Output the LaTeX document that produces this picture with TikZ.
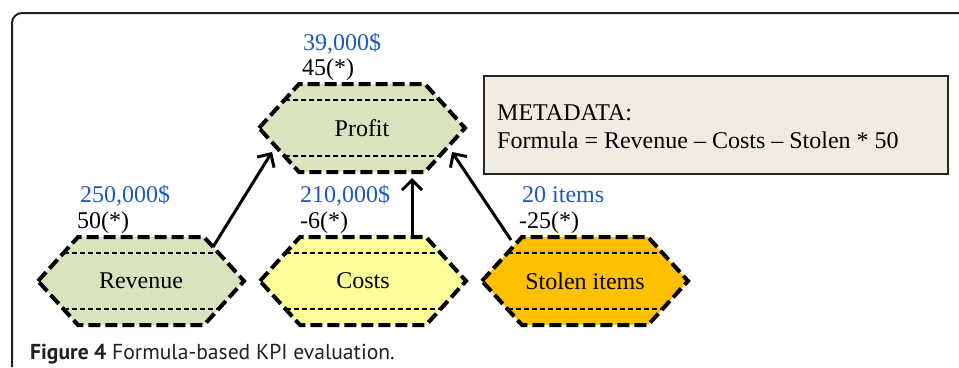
\documentclass[tikz,border=0pt]{standalone}
\usepackage{fontspec}
\setmainfont{Liberation Serif}
\newfontfamily\capfont{PT Sans}
\usetikzlibrary{arrows.meta}
\definecolor{valblue}{RGB}{31,87,193}
\definecolor{hexgreen}{HTML}{D7E4BD}
\definecolor{hexyellow}{HTML}{FFFF99}
\definecolor{hexorange}{HTML}{FFC000}
\definecolor{metafill}{HTML}{EEECE1}
\definecolor{framecol}{HTML}{231F20}
\tikzset{
  hexborder/.style={line width=4pt, dash pattern=on 12pt off 5pt, black},
  innerdash/.style={line width=1.2pt, dash pattern=on 5pt off 3pt, black},
  hexlabel/.style={inner sep=0pt, minimum width=206pt, minimum height=88pt, font=\fontsize{24}{28}\selectfont},
  valtext/.style={anchor=base west, inner sep=0pt, text=valblue, font=\fontsize{24}{28}\selectfont},
  scoretext/.style={anchor=base west, inner sep=0pt, text=black, font=\fontsize{24}{28}\selectfont},
  arr/.style={line width=3pt, -{Straight Barb[length=10pt,width=20pt,line width=3pt]}},
}
\newcommand\hexa[5]{%
  \fill[#4] (#2-103,#3) -- (#2-63,#3-44) -- (#2+63,#3-44) -- (#2+103,#3) -- (#2+63,#3+44) -- (#2-63,#3+44) -- cycle;
  \draw[innerdash] (#2-77.5,#3-28) -- (#2+77.5,#3-28);
  \draw[innerdash] (#2-77.5,#3+28) -- (#2+77.5,#3+28);
  \draw[hexborder] (#2-103,#3) -- (#2-63,#3-44) -- (#2+63,#3-44) -- (#2+103,#3) -- (#2+63,#3+44) -- (#2-63,#3+44) -- cycle;
  \node[hexlabel] (#1) at (#2,#3) {#5};
}
\begin{document}
\begin{tikzpicture}[x=1pt,y=-1pt]
\useasboundingbox (0,0) rectangle (959,367);
% frame
\draw[framecol, line width=2pt, rounded corners=10pt] (12,367) -- (12,13) -- (959,13);
% metadata box
\node[draw=black!85, line width=1.8pt, fill=metafill, minimum width=464pt, minimum height=98pt, anchor=north west, inner sep=0pt] (meta) at (483,75) {};
\node[anchor=base west, inner sep=0pt, font=\fontsize{24}{28}\selectfont] (metat1) at (497,120) {METADATA:};
\node[anchor=base west, inner sep=0pt, font=\fontsize{24}{28}\selectfont] (metat2) at (497,148) {Formula = Revenue -- Costs -- Stolen * 50};
% hexagons
\hexa{profit}{362}{128}{hexgreen}{Profit}
\hexa{rev}{141}{281}{hexgreen}{Revenue}
\hexa{costs}{363}{281}{hexyellow}{Costs}
\hexa{stolen}{585}{281}{hexorange}{Stolen items}
% values
\node[valtext] (pv) at (303,50) {39,000\$};
\node[scoretext] (ps) at (302,75) {45(*)};
\node[valtext] (rv) at (80,202) {250,000\$};
\node[scoretext] (rs) at (77,228) {50(*)};
\node[valtext] (cv) at (300,202) {210,000\$};
\node[scoretext] (cs) at (300,228) {-6(*)};
\node[valtext] (sv) at (522,202) {20 items};
\node[scoretext] (ss) at (519,228) {-25(*)};
% arrows
\draw[arr] ([shift={(72,-34)}]rev.center) -- ([shift={(-90,24)}]profit.center);
\draw[arr] ([shift={(49,-44)}]costs.center) -- ([shift={(50,50)}]profit.center);
\draw[arr] ([shift={(-74,-41)}]stolen.center) -- ([shift={(90,24)}]profit.center);
% caption
\node[anchor=base west, inner sep=0pt, text=framecol, font=\capfont\fontsize{21.6}{25}\selectfont] (cap) at (30,359) {\textbf{Figure 4} Formula-based KPI evaluation.};
\end{tikzpicture}
\end{document}
